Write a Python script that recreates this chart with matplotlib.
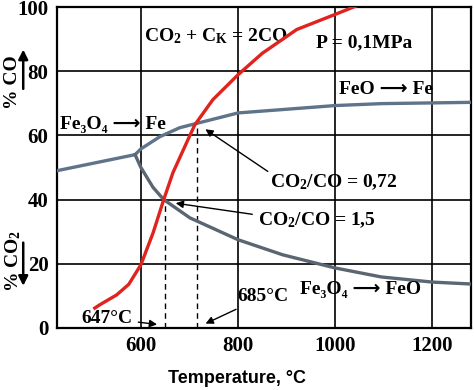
import matplotlib
matplotlib.use("Agg")
import matplotlib.pyplot as plt

t_red = [505, 515, 550, 575, 600, 625, 647, 666, 697, 711, 748, 800, 850, 921, 1000, 1061]
y_red = [6.2, 7.2, 10.3, 13.6, 19.7, 29.6, 40, 48.4, 58.7, 63.3, 71.1, 78.9, 85.6, 93, 97.7, 101.4]

t_up = [427, 588, 600, 639, 680, 711, 800, 1000, 1095, 1280]
y_up = [49, 54, 55.8, 59.6, 62.4, 63.6, 67, 69.3, 69.9, 70.3]

t_low = [588, 600, 625, 647, 701, 800, 892, 1000, 1095, 1200, 1280]
y_low = [54, 50, 43.8, 40, 34.3, 27.5, 22.8, 18.7, 15.9, 14.3, 13.7]

t_cross = [650, 716]
y_cross = [40, 64]

x_ticks = [600, 800, 1000, 1200]
y_ticks = [0, 20, 40, 60, 80, 100]

plt.rcParams['font.family'] = ['Liberation Serif', 'DejaVu Sans']
plt.rcParams['font.weight'] = 'bold'
plt.rcParams['mathtext.default'] = 'regular'

fig = plt.figure(figsize=(4.74, 3.90), dpi=100)
ax = fig.add_axes([0.120, 0.159, 0.874, 0.823])

red = '#e0231d'
blue = '#5f7389'

ax.plot(t_red, y_red, color=red, lw=2.4, zorder=4, solid_joinstyle='round')
ax.plot(t_up, y_up, color=blue, lw=2.4, zorder=3, solid_joinstyle='round')
ax.plot(t_low, y_low, color='#5a6672', lw=2.4, zorder=3, solid_joinstyle='round')

# dashed drops from the intersections
for tc, yc in zip(t_cross, y_cross):
    ax.plot([tc, tc], [0, yc], color='black', lw=1, ls=(0, (4, 3)), zorder=2)

ax.set_xlim(427, 1280)
ax.set_ylim(0, 100)
ax.set_xticks(x_ticks)
ax.set_yticks(y_ticks)
ax.grid(True, color='black', lw=1.2)
ax.set_axisbelow(True)
ax.tick_params(length=0, labelsize=15, pad=6)
for lab in ax.get_xticklabels() + ax.get_yticklabels():
    lab.set_fontweight('bold')
for s in ax.spines.values():
    s.set_linewidth(1.6)

fs = 14
arr = '\u27f6'
ax.text(755, 91, 'CO$_2$ + C$_K$ = 2CO', ha='center', va='center', fontsize=fs)
ax.text(1060, 89, 'P = 0,1MPa', ha='center', va='center', fontsize=fs)
ax.text(1105, 74.3, 'FeO ' + arr + ' Fe', ha='center', va='center', fontsize=fs)
ax.text(433, 63.3, 'Fe\u2083O\u2084 ' + arr + ' Fe', ha='left', va='center', fontsize=fs)
ax.text(866, 45.5, 'CO$_2$/CO = 0,72', ha='left', va='center', fontsize=fs)
ax.text(841, 33.7, 'CO$_2$/CO = 1,5', ha='left', va='center', fontsize=fs)
ax.text(928, 11.9, 'Fe\u2083O\u2084 ' + arr + ' FeO', ha='left', va='center', fontsize=fs)

arrow = dict(arrowstyle='-|>', color='black', lw=1, mutation_scale=11)
ax.annotate('', xy=(728, 62.4), xytext=(866, 48.3), arrowprops=arrow)
ax.annotate('', xy=(666, 39), xytext=(835, 35.3), arrowprops=arrow)
ax.annotate('647\u00b0C', xy=(639, 1), xytext=(478, 3), ha='left', va='center',
            fontsize=fs, arrowprops=arrow)
ax.annotate('685\u00b0C', xy=(728, 1), xytext=(798, 9.7), ha='left', va='center',
            fontsize=fs, arrowprops=arrow)

fig.text(0.5, 0.008, 'Temperature, \u00b0C', ha='center', va='bottom',
         family='Liberation Sans', fontweight='bold', fontsize=13)

# y axis labels with arrows
fig.text(0.027, 0.79, '% CO', rotation=90, ha='center', va='center', fontsize=14)
fig.text(0.027, 0.33, '% CO$_2$', rotation=90, ha='center', va='center', fontsize=14)
fig.add_artist(matplotlib.patches.FancyArrowPatch((0.049, 0.765), (0.049, 0.88),
               transform=fig.transFigure, arrowstyle='-|>', mutation_scale=14,
               color='black', lw=1.8))
fig.add_artist(matplotlib.patches.FancyArrowPatch((0.049, 0.385), (0.049, 0.26),
               transform=fig.transFigure, arrowstyle='-|>', mutation_scale=14,
               color='black', lw=1.8))

fig.savefig('out.png', dpi=100)
